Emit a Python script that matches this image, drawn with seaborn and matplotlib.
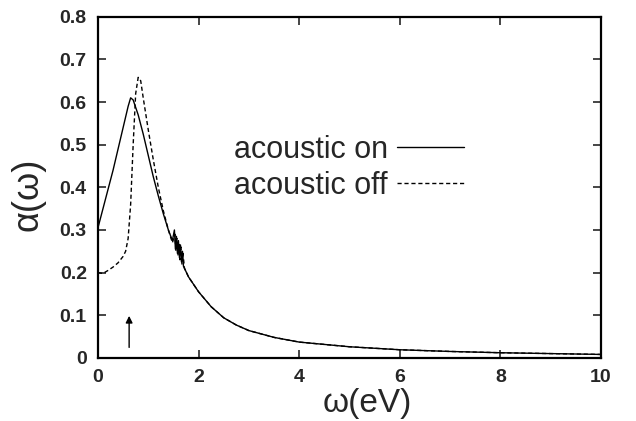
import numpy as np
import pandas as pd
import matplotlib
matplotlib.use("Agg")
import matplotlib.pyplot as plt
import seaborn as sns

# acoustic on (solid)
omega_on = [0.0, 0.1, 0.2, 0.3, 0.4, 0.5, 0.6, 0.65, 0.7, 0.8, 0.9, 1.0, 1.1,
            1.2, 1.3, 1.4, 1.48, 1.52, 1.54, 1.56, 1.58, 1.60, 1.62, 1.64,
            1.66, 1.68, 1.70, 1.72, 1.8, 2.0, 2.25, 2.5, 2.75, 3.0, 3.5,
            4.0, 5.0, 6.0, 7.0, 8.0, 9.0, 10.0]
alpha_on = [0.305, 0.35, 0.395, 0.44, 0.49, 0.54, 0.59, 0.61, 0.605, 0.57,
            0.525, 0.475, 0.425, 0.38, 0.338, 0.30, 0.275, 0.30, 0.255,
            0.285, 0.245, 0.275, 0.235, 0.265, 0.225, 0.25, 0.215, 0.21,
            0.19, 0.155, 0.12, 0.094, 0.077, 0.064, 0.048, 0.037, 0.026,
            0.019, 0.015, 0.012, 0.010, 0.008]

# acoustic off (dashed)
omega_off = [0.0, 0.1, 0.2, 0.3, 0.4, 0.5, 0.55, 0.6, 0.65, 0.7, 0.75,
             0.8, 0.85, 0.9, 1.0, 1.1, 1.2, 1.3, 1.4, 1.48, 1.53, 1.55,
             1.57, 1.59, 1.61, 1.63, 1.65, 1.67, 1.69, 1.72, 1.8, 2.0,
             2.25, 2.5, 2.75, 3.0, 3.5, 4.0, 5.0, 6.0, 7.0, 8.0, 9.0, 10.0]
alpha_off = [0.20, 0.198, 0.205, 0.213, 0.223, 0.238, 0.25, 0.28, 0.36,
             0.50, 0.62, 0.658, 0.65, 0.61, 0.535, 0.465, 0.40, 0.345,
             0.30, 0.27, 0.29, 0.25, 0.28, 0.24, 0.27, 0.23, 0.26, 0.22,
             0.245, 0.21, 0.19, 0.155, 0.12, 0.094, 0.077, 0.064, 0.048,
             0.037, 0.026, 0.019, 0.015, 0.012, 0.010, 0.008]

arrow_x = 0.62
xticks = [0, 2, 4, 6, 8, 10]
yticks = [0, 0.1, 0.2, 0.3, 0.4, 0.5, 0.6, 0.7, 0.8]
ytick_labels = ["0", "0.1", "0.2", "0.3", "0.4", "0.5", "0.6", "0.7", "0.8"]

df = pd.concat([
    pd.DataFrame({"omega": omega_on, "alpha": alpha_on, "case": "acoustic on"}),
    pd.DataFrame({"omega": omega_off, "alpha": alpha_off, "case": "acoustic off"}),
])

sns.set_theme(style="ticks")
plt.rcParams["font.family"] = ["Liberation Sans", "DejaVu Sans"]

fig = plt.figure(figsize=(6.36, 4.21), dpi=100)
ax = fig.add_axes([0.154, 0.150, 0.791, 0.810])

sns.lineplot(data=df, x="omega", y="alpha", style="case",
             style_order=["acoustic on", "acoustic off"],
             dashes={"acoustic on": "", "acoustic off": (3, 2)},
             color="black", lw=1.0, sort=False, estimator=None, ax=ax)

ax.annotate("", xy=(arrow_x, 0.105), xytext=(arrow_x, 0.018),
            arrowprops=dict(arrowstyle="-|>", color="black", lw=1.0,
                            mutation_scale=10))

ax.set_xlim(0, 10)
ax.set_ylim(0, 0.8)
ax.set_xticks(xticks)
ax.set_yticks(yticks)
ax.set_yticklabels(ytick_labels)
ax.tick_params(direction="in", length=6, width=1.2, top=True, right=True,
               labelsize=14, pad=8)
for lab in ax.get_xticklabels() + ax.get_yticklabels():
    lab.set_fontweight("bold")
for sp in ax.spines.values():
    sp.set_linewidth(1.6)
    sp.set_color("black")

ax.set_xlabel("ω(eV)", fontsize=24)
ax.set_ylabel("α(ω)", fontsize=26)
ax.xaxis.set_label_coords(0.535, -0.088)
ax.yaxis.set_label_coords(-0.105, 0.48)

ax.legend(title=None, frameon=False, markerfirst=False, fontsize=22,
          handlelength=2.2, handletextpad=0.3, labelspacing=0.2,
          loc="upper left", bbox_to_anchor=(0.215, 0.735))

fig.savefig("out.png", dpi=100)
